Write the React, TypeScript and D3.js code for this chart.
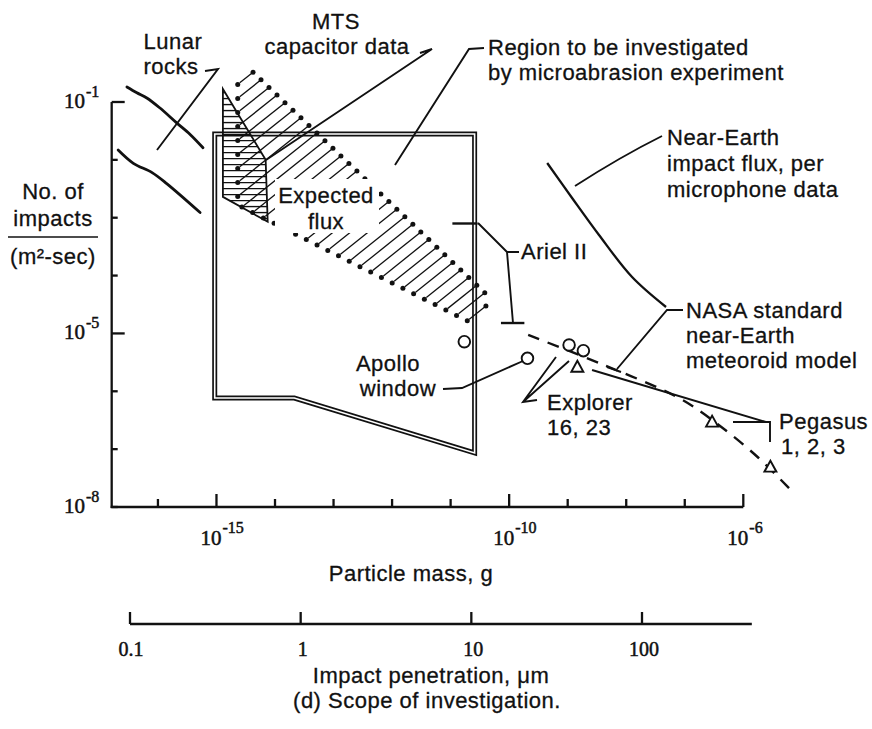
import React from 'react';
import * as d3 from 'd3';

const W = 872;
const H = 729;

// ---- axis ticks (log10 exponents) ----
const massTickExps = [-16, -15, -14, -13, -12, -11, -10, -9, -8, -7, -6];
const massLabelExps = [-15, -10, -6];
const massAxisStartExp = -16.79;
const fluxTickExps = [-1, -2, -3, -4, -5, -6, -7, -8];
const fluxLabelExps = [-1, -5, -8];
const penetrationTicks = [0.1, 1, 10, 100];
const penetrationLabels = ['0.1', '1', '10', '100'];
const penetrationMax = 440;

// ---- Lunar rocks (log10 mass, log10 flux) ----
const lunarUpperLogM = [-16.53, -16.36, -16.19, -15.97, -15.68, -15.45, -15.23];
const lunarUpperLogF = [-0.74, -0.84, -0.93, -1.10, -1.36, -1.56, -1.79];
const lunarLowerLogM = [-16.68, -16.42, -16.1, -15.85, -15.28];
const lunarLowerLogF = [-1.83, -2.06, -2.22, -2.41, -2.91];

// ---- MTS capacitor data (hatched polygon) ----
const mtsLogM = [-14.89, -14.16, -14.125, -14.89];
const mtsLogF = [-0.775, -2.0, -3.07, -2.64];

// ---- Expected flux band ----
const bandLogM = [-14.637, -14.415, -10.29, -10.68, -14.637];
const bandLogF = [-0.6, -0.447, -4.42, -4.8, -2.78];

// ---- Region to be investigated (microabrasion) ----
const regionLogM = [-15.03, -10.59, -10.59, -13.67, -15.03];
const regionLogF = [-1.553, -1.553, -7.066, -6.116, -6.116];

// ---- Ariel II (mass range, flux) ----
const arielLogMLo = [-10.97, -10.14];
const arielLogMHi = [-10.54, -9.74];
const arielLogF = [-3.1, -4.82];

// ---- Near-Earth impact flux, microphone data ----
const micLogM = [-9.35, -8.925, -8.465, -7.9, -7.32];
const micLogF = [-2.054, -2.659, -3.299, -4.025, -4.543];

// ---- NASA standard near-Earth meteoroid model ----
const nasaDashLogM = [-9.675, -8.465, -7.1, -6.42, -5.737, -5.19];
const nasaDashLogF = [-5.027, -5.511, -6.116, -6.582, -7.153, -7.706];
const nasaSolidLogM = [-8.584, -5.617];
const nasaSolidLogF = [-5.632, -6.531];

// ---- Point data ----
const circleLogM = [-8.976, -8.732, -9.687, -10.766]; // Explorer 16, 23; Apollo window
const circleLogF = [-5.2, -5.298, -5.43, -5.143];
const pegasusLogM = [-8.835, -6.533, -5.537];
const pegasusLogF = [-5.575, -6.525, -7.303];

const x = d3.scaleLog().domain([1e-17, 1e-6]).range([99.4, 743.3]);
const y = d3.scaleLog().domain([1e-8, 1e-1]).range([507, 102]);
const xp = d3.scaleLog().domain([0.1, 100]).range([130, 642]);
const X = (e: number) => x(Math.pow(10, e));
const Y = (e: number) => y(Math.pow(10, e));

type P = [number, number];
const pts = (ms: number[], fs: number[]): P[] => ms.map((m, i) => [X(m), Y(fs[i])] as P);

function hatch(poly: P[], k: number, step: number, offset = 0.5): [P, P][] {
  const cs = poly.map(([px, py]) => py + k * px);
  const cmin = Math.min(...cs), cmax = Math.max(...cs);
  const segs: [P, P][] = [];
  for (let c = cmin + step * offset; c < cmax; c += step) {
    const hits: P[] = [];
    for (let i = 0; i < poly.length; i++) {
      const a = poly[i], b = poly[(i + 1) % poly.length];
      const fa = a[1] + k * a[0] - c, fb = b[1] + k * b[0] - c;
      if ((fa <= 0 && fb > 0) || (fa > 0 && fb <= 0)) {
        const t = fa / (fa - fb);
        hits.push([a[0] + t * (b[0] - a[0]), a[1] + t * (b[1] - a[1])]);
      }
    }
    if (hits.length >= 2) {
      hits.sort((p, q) => p[0] - q[0]);
      segs.push([hits[0], hits[hits.length - 1]]);
    }
  }
  return segs;
}

const FONT = '"Liberation Sans", Arial, sans-serif';
const NUMFONT = '"Liberation Serif", "DejaVu Serif", serif';
const INK = '#111';
const FS = 22;

type LabelProps = { x: number; y: number; lines: string[]; anchor?: 'start' | 'middle' | 'end'; dy?: number; dxs?: number[] };
function Label({ x, y, lines, anchor = 'start', dy = 25, dxs }: LabelProps) {
  return (
    <text x={x} y={y} textAnchor={anchor} fontFamily={FONT} fontSize={FS} letterSpacing={0.5} fill={INK} stroke={INK} strokeWidth={0.3}>
      {lines.map((l, i) => (
        <tspan key={i} x={x + (dxs ? dxs[i] : 0)} dy={i === 0 ? 0 : dy}>{l}</tspan>
      ))}
    </text>
  );
}

export default function App() {
  const line = d3.line<P>().x(d => d[0]).y(d => d[1]);
  const curve = d3.line<P>().x(d => d[0]).y(d => d[1]).curve(d3.curveCatmullRom.alpha(0.5));

  const lunarU = pts(lunarUpperLogM, lunarUpperLogF);
  const lunarL = pts(lunarLowerLogM, lunarLowerLogF);
  const mts = pts(mtsLogM, mtsLogF);
  const band = pts(bandLogM, bandLogF);
  const region = pts(regionLogM, regionLogF);
  const mic = pts(micLogM, micLogF);
  const nasaD = pts(nasaDashLogM, nasaDashLogF);
  const nasaS = pts(nasaSolidLogM, nasaSolidLogF);

  const mtsHatch = hatch(mts, 0, 6, 0.6);
  const bandHatch = hatch(band, 0.8, 14, 0.4);

  const xAxisY = y(1e-8);
  const yAxisX = x(Math.pow(10, massAxisStartExp));
  const pAxisY = 624;

  return (
    <svg width={W} height={H} viewBox={`0 0 ${W} ${H}`} style={{ display: 'block', position: 'absolute', left: 0, top: 0, background: '#fff' }}>
      <rect x={0} y={0} width={W} height={H} fill="#fff" />

      {/* Region box (double line) */}
      <path d={line(region) + 'Z'} fill="none" stroke={INK} strokeWidth={5} strokeLinejoin="miter" />
      <path d={line(region) + 'Z'} fill="none" stroke="#fff" strokeWidth={1.6} strokeLinejoin="miter" />

      {/* MTS capacitor data: horizontal hatching */}
      <g stroke={INK} strokeWidth={1.4}>
        {mtsHatch.map((s, i) => (
          <line key={i} x1={s[0][0]} y1={s[0][1]} x2={s[1][0]} y2={s[1][1]} />
        ))}
      </g>
      <path d={line(mts) + 'Z'} fill="none" stroke={INK} strokeWidth={1.8} />

      {/* Expected flux band: dotted, diagonal hatching */}
      <g stroke={INK} strokeWidth={1.3}>
        {bandHatch.map((s, i) => (
          <line key={i} x1={s[0][0] + 2} y1={s[0][1] - 1.6} x2={s[1][0]} y2={s[1][1]} />
        ))}
      </g>
      <g fill={INK}>
        {bandHatch.map((s, i) => (
          <g key={i}>
            <circle cx={s[0][0]} cy={s[0][1]} r={2.5} />
            <circle cx={s[1][0]} cy={s[1][1]} r={2.5} />
          </g>
        ))}
      </g>
      <rect x={275} y={179} width={104} height={54} fill="#fff" />
      <Label x={326} y={203} lines={['Expected', 'flux']} anchor="middle" dy={26} />

      {/* Lunar rocks */}
      <path d={curve(lunarU) || ''} fill="none" stroke={INK} strokeWidth={2.8} strokeLinecap="round" />
      <path d={curve(lunarL) || ''} fill="none" stroke={INK} strokeWidth={2.8} strokeLinecap="round" />

      {/* Microphone data */}
      <path d={curve(mic) || ''} fill="none" stroke={INK} strokeWidth={2.3} />

      {/* NASA model */}
      <path d={curve(nasaD) || ''} fill="none" stroke={INK} strokeWidth={2.4} strokeDasharray="12 9" />
      <path d={line(nasaS) || ''} fill="none" stroke={INK} strokeWidth={2} />

      {/* Ariel II */}
      <g stroke={INK} strokeWidth={2.4}>
        {arielLogF.map((f, i) => (
          <line key={i} x1={X(arielLogMLo[i])} x2={X(arielLogMHi[i])} y1={Y(f)} y2={Y(f)} />
        ))}
      </g>

      {/* circles */}
      <g fill="#fff" stroke={INK} strokeWidth={1.9}>
        {circleLogM.map((m, i) => (
          <circle key={i} cx={X(m)} cy={Y(circleLogF[i])} r={5.8} />
        ))}
      </g>
      {/* Pegasus triangles */}
      <g fill="#fff" stroke={INK} strokeWidth={1.9}>
        {pegasusLogM.map((m, i) => {
          const cx = X(m), cy = Y(pegasusLogF[i]);
          return <path key={i} d={`M${cx},${cy - 6}L${cx + 6},${cy + 5}L${cx - 6},${cy + 5}Z`} />;
        })}
      </g>

      {/* Axes */}
      <g stroke={INK} strokeWidth={2.3} fill="none">
        <line x1={yAxisX} x2={yAxisX} y1={y(1e-1)} y2={xAxisY + 1} />
        <line x1={yAxisX - 1} x2={x(1e-6)} y1={xAxisY} y2={xAxisY} />
        {fluxTickExps.map(e => (
          <line key={e} x1={yAxisX} x2={yAxisX + (fluxLabelExps.includes(e) && e !== -8 ? 13 : 6)} y1={Y(e)} y2={Y(e)} />
        ))}
        {massTickExps.map(e => (
          <line key={e} x1={X(e)} x2={X(e)} y1={xAxisY} y2={xAxisY - (massLabelExps.includes(e) ? 13 : 8)} />
        ))}
        <line x1={xp(0.1)} x2={xp(penetrationMax)} y1={pAxisY} y2={pAxisY} />
        {penetrationTicks.map(t => (
          <line key={t} x1={xp(t)} x2={xp(t)} y1={pAxisY} y2={pAxisY - 12} />
        ))}
      </g>

      {/* Y tick labels */}
      {fluxLabelExps.map(e => (
        <g key={e} fontFamily={NUMFONT} fill={INK} stroke={INK} strokeWidth={0.5}>
          <text x={85} y={Y(e) + 6} textAnchor="end" fontSize={21}>10</text>
          <text x={86} y={Y(e) - 5} fontSize={16}>{`-${-e}`}</text>
        </g>
      ))}
      {/* X tick labels */}
      {massLabelExps.map(e => (
        <g key={e} fontFamily={NUMFONT} fill={INK} stroke={INK} strokeWidth={0.5}>
          <text x={X(e) + 5} y={545} textAnchor="end" fontSize={21}>10</text>
          <text x={X(e) + 6} y={533} fontSize={16}>{`-${-e}`}</text>
        </g>
      ))}
      <Label x={411} y={581} lines={['Particle mass, g']} anchor="middle" />

      {/* Penetration labels */}
      {penetrationTicks.map((t, i) => (
        <text key={t} x={xp(t) + (i === 0 ? 1 : 2)} y={656} textAnchor="middle" fontFamily={NUMFONT} fontSize={20} fill={INK} stroke={INK} strokeWidth={0.5}>{penetrationLabels[i]}</text>
      ))}
      <Label x={431} y={683} lines={['Impact penetration, μm', '(d) Scope of investigation.']} anchor="middle" dy={25} dxs={[0, -4]} />

      {/* Y axis title */}
      <Label x={53} y={199} lines={['No. of', 'impacts']} anchor="middle" dy={27} />
      <Label x={53} y={264} lines={['(m²-sec)']} anchor="middle" />
      <line x1={8} x2={98} y1={237} y2={237} stroke={INK} strokeWidth={1.7} />

      {/* Annotations */}
      <Label x={173} y={49} lines={['Lunar', 'rocks']} anchor="middle" dxs={[0, -2]} />
      <Label x={336} y={29} lines={['MTS', 'capacitor data']} anchor="middle" dxs={[0, 1]} />
      <Label x={488} y={55} lines={['Region to be investigated', 'by microabrasion experiment']} />
      <Label x={667} y={145} lines={['Near-Earth', 'impact flux, per', 'microphone data']} dy={26} />
      <Label x={521} y={259} lines={['Ariel II']} />
      <Label x={388} y={371} lines={['Apollo', 'window']} anchor="middle" dxs={[0, 10]} />
      <Label x={686} y={318} lines={['NASA standard', 'near-Earth', 'meteoroid model']} />
      <Label x={547} y={410} lines={['Explorer', '16, 23']} />
      <Label x={779} y={429} lines={['Pegasus', '1, 2, 3']} dxs={[0, 2]} />

      <g stroke={INK} strokeWidth={1.9} fill="none">
        <path d="M205,71 L218,69 L157,150" />
        <path d="M420,53 L432,49 L266,160" />
        <path d="M484,48 L469,49 L395,165" />
        <path d="M575,186 Q620,157 662,136" />
        <path d="M478,223 L507,252 L519,252 M507,252 L513,323" />
        <path d="M443,389 L462,388 L523,361" />
        <path d="M683,310 L667,310 L617,369 M607,367 L621,372" />
        <path d="M556,357 L523,402 L537,400 M569,361 L523,402" />
        <path d="M733,422 L770,422 L770,442" />
      </g>
    </svg>
  );
}
